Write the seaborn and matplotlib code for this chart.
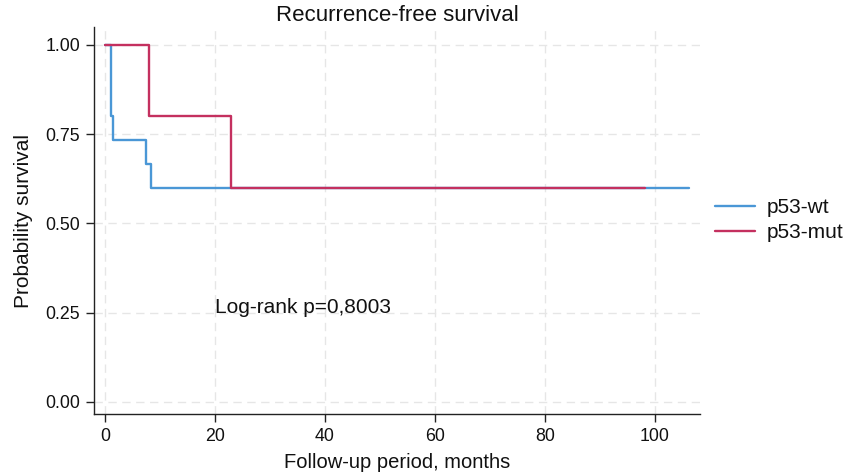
import matplotlib
matplotlib.use("Agg")
import matplotlib.pyplot as plt
from matplotlib.lines import Line2D
import seaborn as sns
import pandas as pd

# Kaplan-Meier step data
wt_time = [0.0, 1.1, 1.45, 7.4, 8.4, 106.2]
wt_surv = [1.0, 0.80, 0.733, 0.667, 0.60, 0.60]
mut_time = [0.0, 8.05, 23.0, 98.2]
mut_surv = [1.0, 0.80, 0.60, 0.60]
groups = ["p53-wt", "p53-mut"]
colors = ["#4a97d6", "#c4305f"]
x_ticks = [0, 20, 40, 60, 80, 100]
y_ticks = [0.0, 0.25, 0.5, 0.75, 1.0]
annotation = "Log-rank p=0,8003"

df = pd.DataFrame({
    "time": wt_time + mut_time,
    "surv": wt_surv + mut_surv,
    "group": [groups[0]] * len(wt_time) + [groups[1]] * len(mut_time),
})

sns.set_style("white")
plt.rcParams["font.family"] = ["Liberation Sans", "DejaVu Sans"]
plt.rcParams["text.color"] = "#111111"
plt.rcParams["axes.labelcolor"] = "#111111"
plt.rcParams["xtick.color"] = "#111111"
plt.rcParams["ytick.color"] = "#111111"

W, H = 849, 474
ax_left, ax_right, ax_bottom, ax_top = 94, 700, 414, 27
fig = plt.figure(figsize=(W / 100, H / 100), dpi=100)
ax = fig.add_axes([ax_left / W, 1 - ax_bottom / H, (ax_right - ax_left) / W,
                   (ax_bottom - ax_top) / H])

sns.lineplot(data=df, x="time", y="surv", hue="group", hue_order=groups,
             palette=colors, drawstyle="steps-post", estimator=None,
             sort=False, linewidth=1.7, ax=ax, legend=False)

ax.set_xlim(-2.0, 108.2)
ax.set_ylim(-0.034, 1.05)
ax.set_xticks(x_ticks)
ax.set_yticks(y_ticks)
ax.set_yticklabels([f"{v:.2f}" for v in y_ticks])
ax.grid(True, color="#e6e6e6", linestyle=(0, (6, 4)), linewidth=1.0)
ax.set_axisbelow(True)
for s in ["top", "right"]:
    ax.spines[s].set_visible(False)
for s in ["left", "bottom"]:
    ax.spines[s].set_color("#222222")
    ax.spines[s].set_linewidth(1.0)
ax.tick_params(axis="both", which="major", length=6, width=1.0, color="#222222",
               labelsize=12.8, direction="out", left=True, bottom=True, pad=4)

ax.set_xlabel("Follow-up period, months", fontsize=14.5, labelpad=6)
ax.set_ylabel("Probability survival", fontsize=15, labelpad=9)
ax.set_title("Recurrence-free survival", fontsize=16, pad=4)

ax.text(20.0, 0.265, annotation, fontsize=15, ha="left", va="center")

handles = [Line2D([0], [0], color=c, lw=1.7) for c in colors]
fig.legend(handles, groups, loc="center left", bbox_to_anchor=(715 / W, 1 - 220 / H),
           frameon=False, fontsize=15, handlelength=1.9, handletextpad=0.6,
           labelspacing=0.3, borderpad=0, borderaxespad=0)

fig.savefig("out.png", dpi=100)
